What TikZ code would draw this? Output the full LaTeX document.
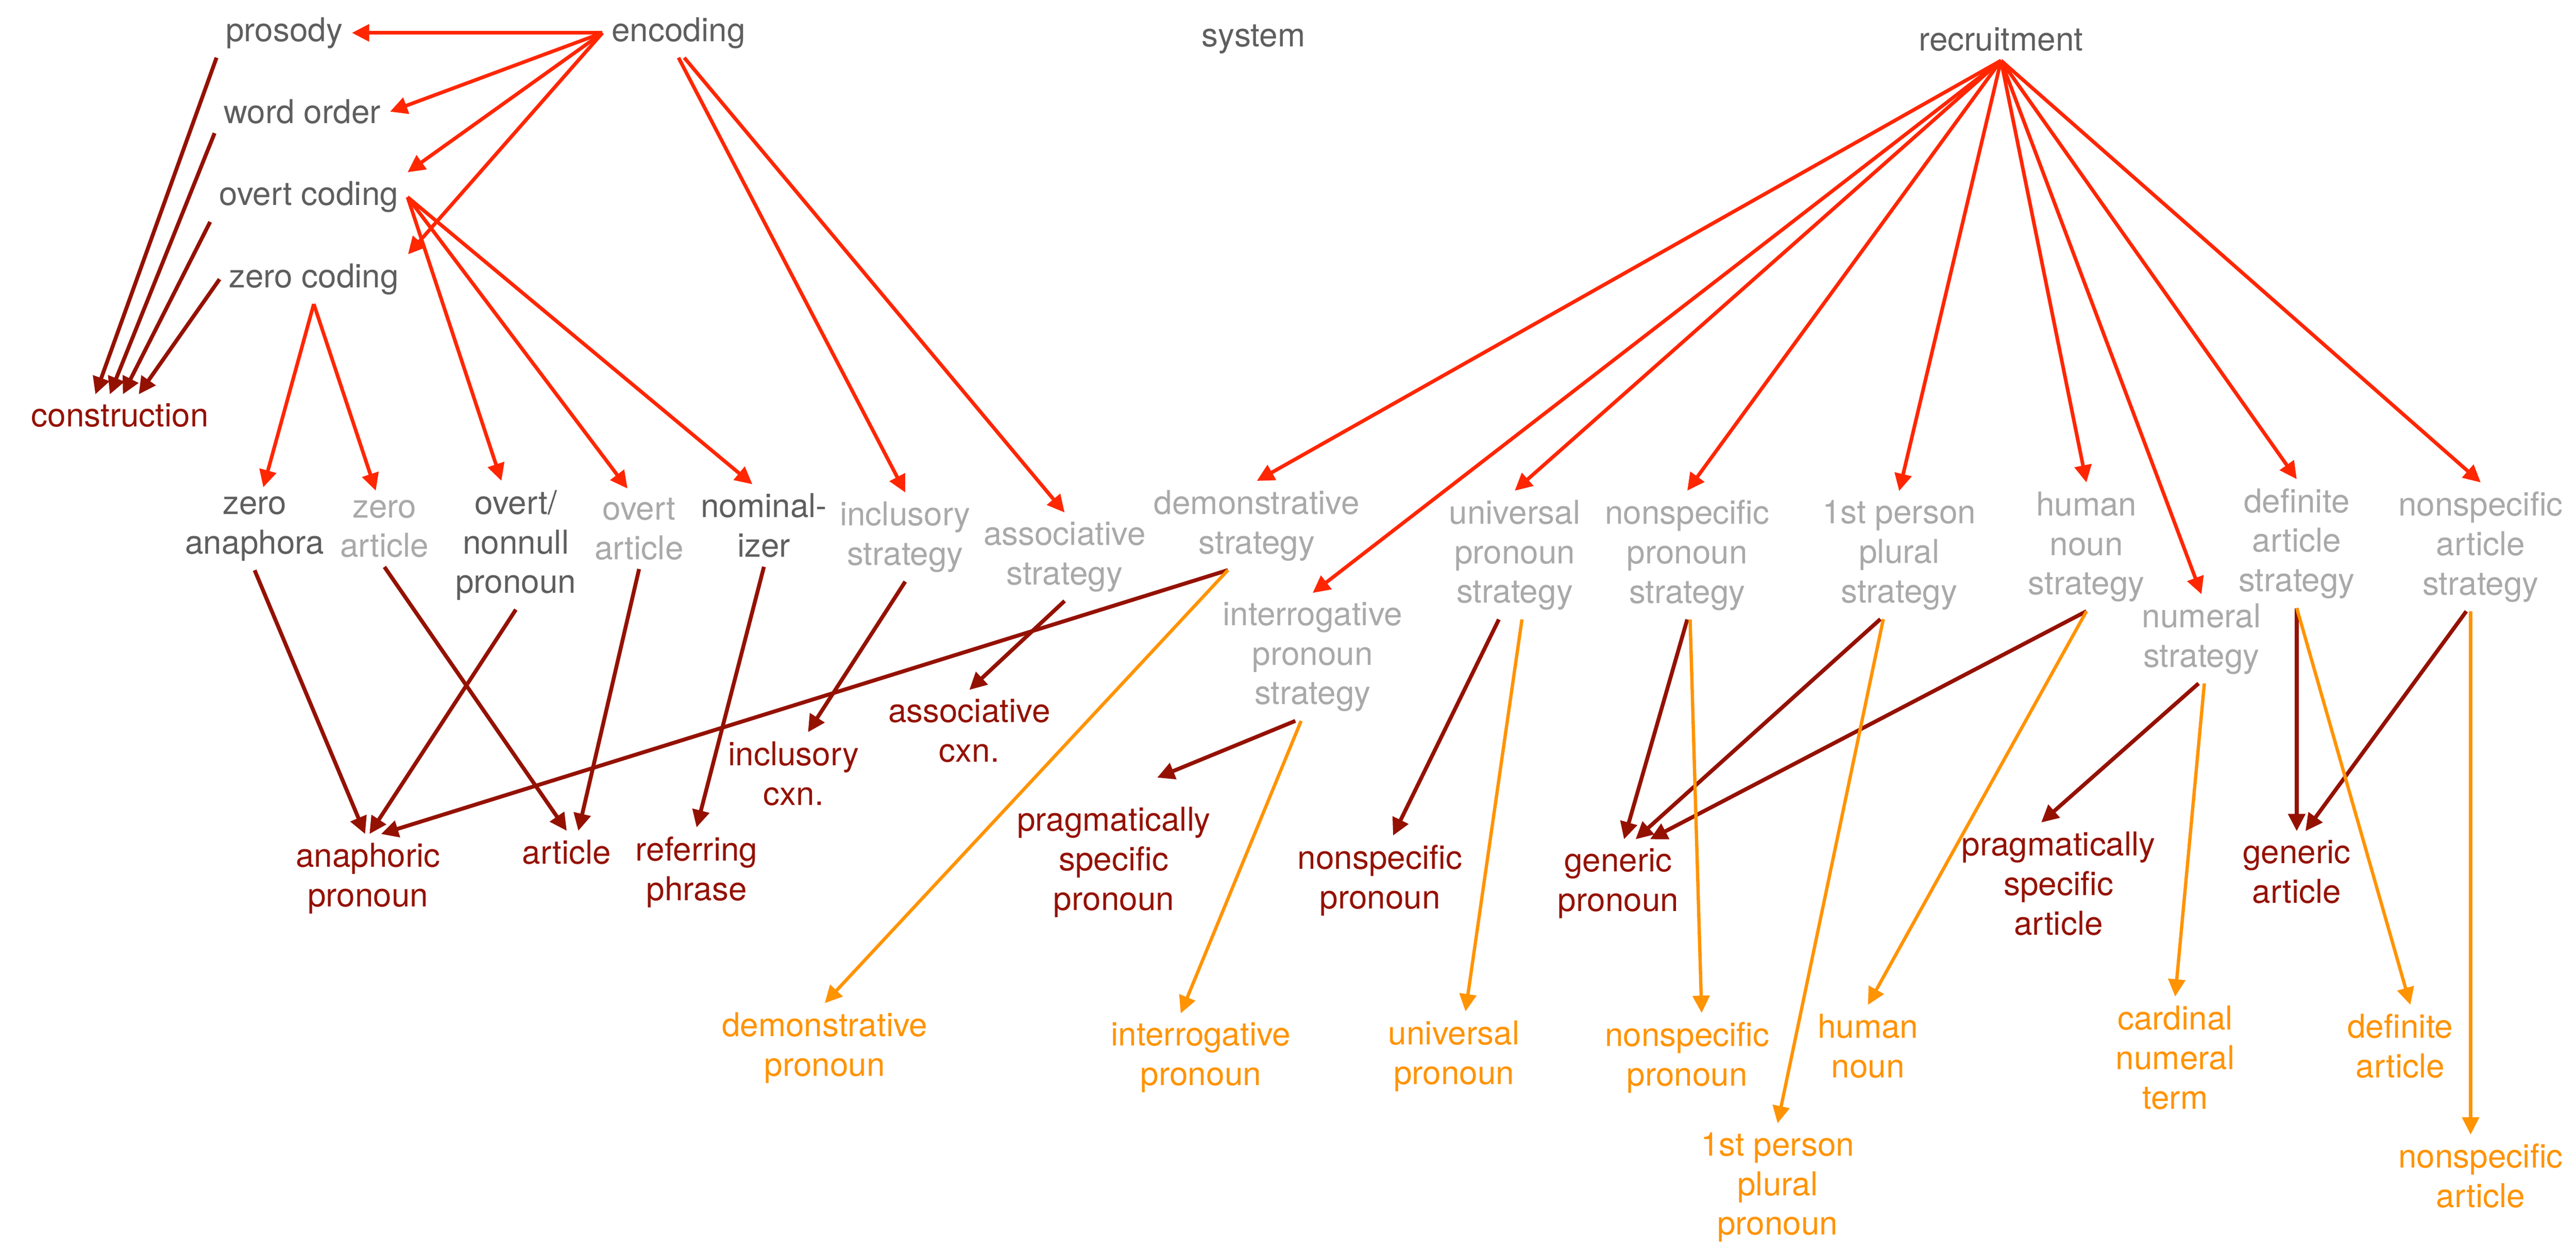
\documentclass[tikz,border=0pt]{standalone}
\usepackage{fontspec}
\setmainfont{TeX Gyre Heros}
\usepackage{tikz}
\usetikzlibrary{arrows.meta}

\definecolor{sysgrey}{HTML}{5E5E5E}
\definecolor{stratgrey}{HTML}{A9A9A9}
\definecolor{cxnred}{HTML}{941100}
\definecolor{recred}{HTML}{FF2600}
\definecolor{lexorange}{HTML}{FF9300}

\begin{document}
\begin{tikzpicture}[x=0.2mm, y=-0.2mm,
                font=\fontsize{11.4pt}{13.7pt}\selectfont,
                every node/.style={align=center, inner sep=3pt},
                sys label/.style={text=sysgrey},
                strategy/.style={text=stratgrey},
                cxn/.style={text=cxnred},
                lexeme/.style={text=lexorange},
                rec arrow/.style={-{Triangle[length=6pt, width=5.8pt]}, line width=1.25pt, recred},
                cxn arrow/.style={-{Triangle[length=6pt, width=5.8pt]}, line width=1.35pt, cxnred},
                lex arrow/.style={-{Triangle[length=6pt, width=5.8pt]}, line width=1.15pt, lexorange}]

                \useasboundingbox (0,0) rectangle (1568,762.8);

                % Top row
                \node[sys label] (pros) at (173,20) {prosody};
                \node[sys label] (enc) at (413,20) {encoding};
                \node[sys label] (sys) at (763,24) {system};
                \node[sys label] (rec) at (1218,24) {recruitment};

                % Encoding column
                \node[sys label] (wo) at (184,68) {word order};
                \node[sys label] (oc) at (188,120) {overt coding};
                \node[sys label] (zc) at (191,170) {zero coding};
                \node[cxn] (con) at (73,253) {construction};

                % Strategies
                \node[sys label] (za) at (155,322) {zero\\anaphora};
                \node[strategy] (zart) at (234,322) {zero\\article};
                \node[sys label] (onp) at (314,332) {overt/\\nonnull\\pronoun};
                \node[strategy] (oa) at (389,322) {overt\\article};
                \node[sys label] (nom) at (465,320) {nominal-\\izer};
                \node[strategy] (incs) at (551,327) {inclusory\\strategy};
                \node[strategy] (asss) at (648,339) {associative\\strategy};
                \node[strategy] (dems) at (765,320) {demonstrative\\strategy};
                \node[strategy] (ints) at (799,400) {interrogative\\pronoun\\strategy};
                \node[strategy] (unis) at (922,338) {universal\\pronoun\\strategy};
                \node[strategy] (nsps) at (1027,338) {nonspecific\\pronoun\\strategy};
                \node[strategy] (fpps) at (1156,338) {1st person\\plural\\strategy};
                \node[strategy] (hums) at (1270,333) {human\\noun\\strategy};
                \node[strategy] (nums) at (1340,389) {numeral\\strategy};
                \node[strategy] (defs) at (1398,331) {definite\\article\\strategy};
                \node[strategy] (nsas) at (1510,333) {nonspecific\\article\\strategy};

                % Constructions
                \node[cxn] (ap) at (224,535) {anaphoric\\pronoun};
                \node[cxn] (art) at (345,519) {article};
                \node[cxn] (rp) at (424,531) {referring\\phrase};
                \node[cxn] (icx) at (483,471) {inclusory\\cxn.};
                \node[cxn] (asc) at (590,445) {associative\\cxn.};
                \node[cxn] (psp) at (678,525) {pragmatically\\specific\\pronoun};
                \node[cxn] (nspd) at (840,536) {nonspecific\\pronoun};
                \node[cxn] (gp) at (985,538) {generic\\pronoun};
                \node[cxn] (psa) at (1253,538) {pragmatically\\specific\\article};
                \node[cxn] (ga) at (1398,531) {generic\\article};

                % Lexemes
                \node[lexeme] (dp) at (502,638) {demonstrative\\pronoun};
                \node[lexeme] (ip) at (731,644) {interrogative\\pronoun};
                \node[lexeme] (up) at (885,643) {universal\\pronoun};
                \node[lexeme] (nspo) at (1027,644) {nonspecific\\pronoun};
                \node[lexeme] (fppp) at (1082,723) {1st person\\plural\\pronoun};
                \node[lexeme] (hn) at (1137,637) {human\\noun};
                \node[lexeme] (cnt) at (1324,644) {cardinal\\numeral\\term};
                \node[lexeme] (da) at (1461,637) {definite\\article};
                \node[lexeme] (nsao) at (1510,716) {nonspecific\\article};

                % Encoding arrows
                \draw[rec arrow] (enc.west) -- (pros.east);
                \draw[rec arrow] (enc.west) -- (wo.east);
                \draw[rec arrow] (enc.west) -- (oc.north east);
                \draw[rec arrow] (enc.west) -- (zc.north east);
                \draw[rec arrow] (enc.south) -- (incs.north);
                \draw[rec arrow] ([xshift=2pt]enc.south) -- (asss.north);
                \draw[rec arrow] (oc.east) -- ([xshift=-5pt]onp.north);
                \draw[rec arrow] (oc.east) -- ([xshift=-4pt]oa.north);
                \draw[rec arrow] (oc.east) -- ([xshift=-4pt]nom.north);
                \draw[rec arrow] (zc.south) -- ([xshift=3pt]za.north);
                \draw[rec arrow] (zc.south) -- ([xshift=-3pt]zart.north);

                % Everything is a construction
                \draw[cxn arrow] (pros.south west) -- ([xshift=-8.5pt]con.north);
                \draw[cxn arrow] (wo.south west) -- ([xshift=-3.5pt]con.north);
                \draw[cxn arrow] (oc.south west) -- ([xshift=1pt]con.north);
                \draw[cxn arrow] (zc.west) -- ([xshift=6.5pt]con.north);

                % Recruitment arrows
                \draw[rec arrow] (rec.south) -- (dems.north);
                \draw[rec arrow] (rec.south) -- (ints.north);
                \draw[rec arrow] (rec.south) -- (unis.north);
                \draw[rec arrow] (rec.south) -- (nsps.north);
                \draw[rec arrow] (rec.south) -- (fpps.north);
                \draw[rec arrow] (rec.south) -- (hums.north);
                \draw[rec arrow] (rec.south) -- (nums.north);
                \draw[rec arrow] (rec.south) -- (defs.north);
                \draw[rec arrow] (rec.south) -- (nsas.north);

                % Strategy to construction
                \draw[cxn arrow] (za.south) -- ([xshift=-1pt]ap.north);
                \draw[cxn arrow] (zart.south) -- (art.north);
                \draw[cxn arrow] (onp.south) -- ([xshift=0.5pt]ap.north);
                \draw[cxn arrow] (oa.south) -- ([xshift=4pt]art.north);
                \draw[cxn arrow] (nom.south) -- (rp.north);
                \draw[cxn arrow] ([xshift=-10pt]dems.south) -- ([xshift=4.5pt]ap.north);
                \draw[cxn arrow] (incs.south) -- ([xshift=5pt]icx.north);
                \draw[cxn arrow] (asss.south) -- (asc.north);
                \draw[cxn arrow] ([xshift=-6pt]ints.south) -- ([xshift=15pt, yshift=7pt]psp.north);
                \draw[cxn arrow] ([xshift=-5.5pt]unis.south) -- ([xshift=4.5pt]nspd.north);
                \draw[cxn arrow] (nsps.south) -- ([xshift=2pt]gp.north);
                \draw[cxn arrow] ([xshift=-6.5pt]fpps.south) -- ([xshift=6pt]gp.north);
                \draw[cxn arrow] (hums.south) -- ([xshift=11pt]gp.north);
                \draw[cxn arrow] ([xshift=-1pt]nums.south) -- ([xshift=-6pt]psa.north);
                \draw[cxn arrow] (defs.south) -- (ga.north);
                \draw[cxn arrow] ([xshift=-5pt]nsas.south) -- ([xshift=3pt]ga.north);

                % Strategy to lexeme
                \draw[lex arrow] ([xshift=-10pt]dems.south) -- (dp.north);
                \draw[lex arrow] ([xshift=-4pt]ints.south) -- ([xshift=-7pt]ip.north);
                \draw[lex arrow] ([xshift=2.5pt]unis.south) -- ([xshift=4pt]up.north);
                \draw[lex arrow] ([xshift=1pt]nsps.south) -- ([xshift=5pt]nspo.north);
                \draw[lex arrow] ([xshift=-5.5pt]fpps.south) -- (fppp.north);
                \draw[lex arrow] (hums.south) -- (hn.north);
                \draw[lex arrow] ([xshift=1pt]nums.south) -- (cnt.north);
                \draw[lex arrow] (defs.south) -- ([xshift=3.5pt]da.north);
                \draw[lex arrow] ([xshift=-3.5pt]nsas.south) -- ([xshift=-3.5pt]nsao.north);
            \end{tikzpicture}
\end{document}
